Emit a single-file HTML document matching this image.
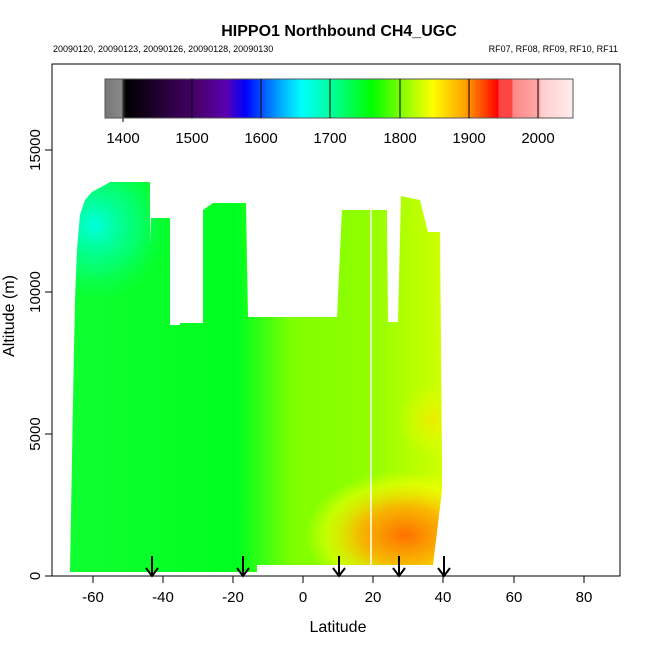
<!DOCTYPE html>
<html><head><style>body{margin:0;background:#fff}svg{display:block}text{font-family:"Liberation Sans",Arial,sans-serif}</style></head><body>
<svg width="650" height="650" viewBox="0 0 650 650" xmlns="http://www.w3.org/2000/svg">
<defs>
<linearGradient id="cb" x1="105" x2="573" y1="0" y2="0" gradientUnits="userSpaceOnUse">
<stop offset="0" stop-color="#777"/><stop offset="0.035" stop-color="#888"/><stop offset="0.04" stop-color="#222"/><stop offset="0.045" stop-color="#000"/>
<stop offset="0.2" stop-color="#4a006f"/><stop offset="0.26" stop-color="#5a00b0"/><stop offset="0.3" stop-color="#0000ff"/>
<stop offset="0.37" stop-color="#00a0ff"/><stop offset="0.42" stop-color="#00ffff"/><stop offset="0.48" stop-color="#00ffa0"/>
<stop offset="0.57" stop-color="#00ff00"/><stop offset="0.65" stop-color="#a0ff00"/><stop offset="0.7" stop-color="#ffff00"/>
<stop offset="0.77" stop-color="#ffa000"/><stop offset="0.84" stop-color="#ff0000"/><stop offset="0.841" stop-color="#ff4444"/>
<stop offset="0.87" stop-color="#ff4444"/><stop offset="0.871" stop-color="#ff8888"/><stop offset="0.93" stop-color="#ffaaaa"/>
<stop offset="0.931" stop-color="#ffcccc"/><stop offset="1" stop-color="#ffeeee"/></linearGradient>
<linearGradient id="lr" x1="70" x2="442" y1="0" y2="0" gradientUnits="userSpaceOnUse">
<stop offset="0" stop-color="#10ff30"/><stop offset="0.45" stop-color="#00ff20"/><stop offset="0.6" stop-color="#80ff00"/><stop offset="0.8" stop-color="#90ff00"/><stop offset="1" stop-color="#d0ff00"/></linearGradient>
<radialGradient id="or" cx="405" cy="535" r="80" gradientUnits="userSpaceOnUse" gradientTransform="translate(405,535) scale(1.25,0.8) translate(-405,-535)">
<stop offset="0" stop-color="#ff7000" stop-opacity="1"/><stop offset="0.45" stop-color="#ffb000" stop-opacity="0.9"/><stop offset="0.8" stop-color="#ffff00" stop-opacity="0.5"/><stop offset="1" stop-color="#ffff00" stop-opacity="0"/></radialGradient>
<radialGradient id="ye" cx="432" cy="420" r="35" gradientUnits="userSpaceOnUse">
<stop offset="0" stop-color="#ffe000" stop-opacity="0.6"/><stop offset="1" stop-color="#ffff00" stop-opacity="0"/></radialGradient>
<radialGradient id="cy" cx="95" cy="225" r="75" gradientUnits="userSpaceOnUse">
<stop offset="0" stop-color="#00ffe0"/><stop offset="0.6" stop-color="#00ff90" stop-opacity="0.6"/><stop offset="1" stop-color="#00ff60" stop-opacity="0"/></radialGradient>
<clipPath id="sh"><polygon points="70,572 73,400 75,300 77,250 80,215 85,200 92,192 105,185 110,182 150,182 150,245 151,218 170,218 170,325 180,325 180,323 203,323 203,210 213,203 246,203 248,317 337,317 342,210 387,210 388,322 398,322 401,196 420,200 428,232 440,232 442,460 442,490 433,565 257,565 257,572"/></clipPath>
</defs>
<text x="339" y="36" font-size="16" font-weight="bold" text-anchor="middle">HIPPO1 Northbound CH4_UGC</text>
<text x="53" y="52" font-size="9">20090120, 20090123, 20090126, 20090128, 20090130</text>
<text x="618" y="52" font-size="9" text-anchor="end">RF07, RF08, RF09, RF10, RF11</text>
<g clip-path="url(#sh)">
<rect x="60" y="170" width="400" height="410" fill="url(#lr)"/>
<rect x="60" y="170" width="400" height="410" fill="url(#cy)"/>
<rect x="60" y="170" width="400" height="410" fill="url(#ye)"/>
<rect x="60" y="170" width="400" height="410" fill="url(#or)"/>
</g>
<line x1="371" y1="210" x2="371" y2="566" stroke="#fff" stroke-width="1.5"/>
<rect x="105" y="79" width="468" height="39" fill="url(#cb)" stroke="#555"/>
<g stroke="#000" stroke-width="1">
<line x1="192" y1="79" x2="192" y2="118"/><line x1="261" y1="79" x2="261" y2="118"/><line x1="330" y1="79" x2="330" y2="118"/><line x1="400" y1="79" x2="400" y2="118"/><line x1="469" y1="79" x2="469" y2="118"/><line x1="538" y1="79" x2="538" y2="118"/><line x1="123" y1="118" x2="123" y2="122"/>
</g>
<g font-size="15" text-anchor="middle">
<text x="123" y="143">1400</text><text x="192" y="143">1500</text><text x="261" y="143">1600</text><text x="330" y="143">1700</text><text x="400" y="143">1800</text><text x="469" y="143">1900</text><text x="538" y="143">2000</text></g>
<rect x="52" y="64" width="568" height="512" fill="none" stroke="#000"/>
<g stroke="#000" stroke-width="2" fill="none">
<path d="M152,556V576M146,568L152,576L158,568"/><path d="M243,556V576M237,568L243,576L249,568"/><path d="M339,556V576M333,568L339,576L345,568"/><path d="M399,556V576M393,568L399,576L405,568"/><path d="M444,556V576M438,568L444,576L450,568"/>
</g>
<g stroke="#000"><path d="M93,576v7M163,576v7M233,576v7M303,576v7M373,576v7M443,576v7M514,576v7M584,576v7M52,576h-7M52,434h-7M52,292h-7M52,150h-7"/></g>
<g font-size="15" text-anchor="middle">
<text x="93" y="602">-60</text><text x="163" y="602">-40</text><text x="233" y="602">-20</text><text x="303" y="602">0</text><text x="373" y="602">20</text><text x="443" y="602">40</text><text x="514" y="602">60</text><text x="584" y="602">80</text>
<text x="338" y="632" font-size="16">Latitude</text>
<text transform="translate(40,576) rotate(-90)">0</text><text transform="translate(40,434) rotate(-90)">5000</text><text transform="translate(40,292) rotate(-90)">10000</text><text transform="translate(40,150) rotate(-90)">15000</text>
<text transform="translate(14,316) rotate(-90)" font-size="16">Altitude (m)</text></g>
</svg>
</body></html>
